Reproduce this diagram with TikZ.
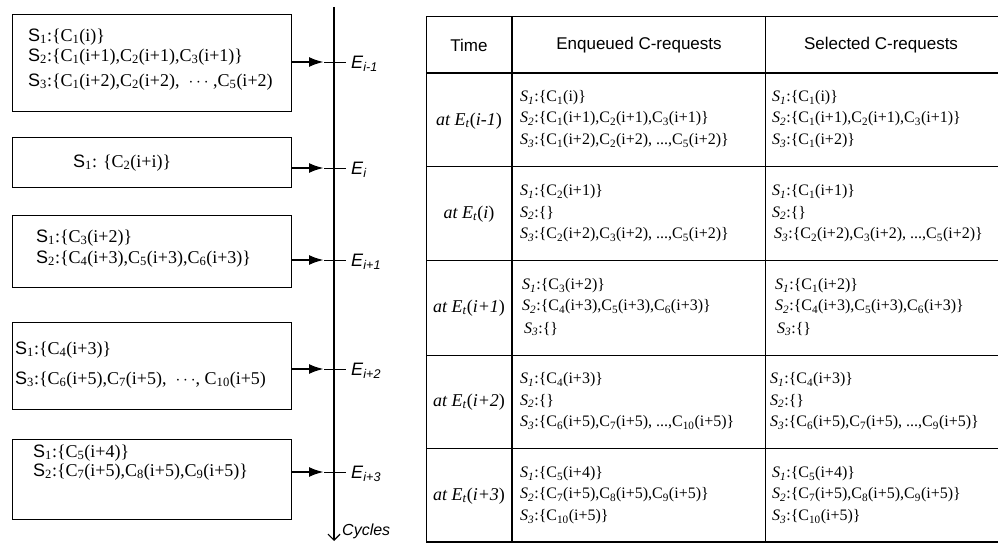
\documentclass[tikz,border=0pt]{standalone}
\usepackage{fontspec}
\setmainfont{Liberation Serif}
\setsansfont{Liberation Sans}
\usetikzlibrary{arrows.meta}
\newcommand\Cc[2]{C\textsubscript{#1}(#2)}
\newcommand\Sl[1]{{\sffamily S}\textsubscript{#1}}
\newcommand\St[1]{\textit{S}\textsubscript{\textit{#1}}}
\newcommand\Ee[1]{\textit{E}\textsubscript{\textit{#1}}}
\newcommand\Et[1]{\textit{at E}\textsubscript{\textit{t}}(\textit{#1})}
\begin{document}
\begin{tikzpicture}[x=1pt,y=-1pt,
  sbox/.style={draw,line width=1pt,minimum width=279pt,inner sep=0pt},
  ltxt/.style={anchor=west,inner sep=0pt,font=\fontsize{18}{20}\selectfont},
  elab/.style={anchor=west,inner sep=0pt,font=\fontsize{18}{20}\selectfont\sffamily},
  arr/.style={line width=2.4pt,-{Latex[length=15pt,width=10pt]}},
  tick/.style={line width=0.8pt},
  tline/.style={line width=1pt},
  ttxt/.style={anchor=west,inner sep=0pt,font=\fontsize{16}{18}\selectfont},
  htxt/.style={inner sep=0pt,font=\fontsize{17}{19}\selectfont\sffamily},
  ctxt/.style={inner sep=0pt,font=\fontsize{18}{20}\selectfont}]
\useasboundingbox (0,0) rectangle (998,545);
% ---------- left timeline ----------
\coordinate (ax0) at (334,7);
\coordinate (ax1) at (334,541);
\draw[line width=1.2pt,-{Straight Barb[length=6pt,width=12pt]}] (ax0) -- (ax1);
\node[anchor=west,inner sep=0pt,font=\fontsize{16}{18}\selectfont\sffamily\itshape] (cyc) at (342,531) {Cycles};
% boxes
\node[sbox,minimum height=97pt] (b1) at (151.5,63.5) {};
\node[sbox,minimum height=50pt] (b2) at (151.5,163) {};
\node[sbox,minimum height=71pt] (b3) at (151.5,251.5) {};
\node[sbox,minimum height=87pt] (b4) at (151.5,365.5) {};
\node[sbox,minimum height=80pt] (b5) at (151.5,479) {};
% box texts
\node[ltxt] (l11) at (28,37) {\Sl{1}:\{\Cc{1}{i}\}};
\node[ltxt] (l12) at (28,57) {\Sl{2}:\{\Cc{1}{i+1},\Cc{2}{i+1},\Cc{3}{i+1}\}};
\node[ltxt] (l13) at (28,82) {\Sl{3}:\{\Cc{1}{i+2},\Cc{2}{i+2}, \ \textbf{$\cdots$} ,\Cc{5}{i+2}};
\node[ltxt] (l21) at (73,163) {\Sl{1}: \{\Cc{2}{i+i}\}};
\node[ltxt] (l31) at (36,238) {\Sl{1}:\{\Cc{3}{i+2}\}};
\node[ltxt] (l32) at (36,259) {\Sl{2}:\{\Cc{4}{i+3},\Cc{5}{i+3},\Cc{6}{i+3}\}};
\node[ltxt] (l41) at (15,350) {\Sl{1}:\{\Cc{4}{i+3}\}};
\node[ltxt] (l42) at (15,380) {\Sl{3}:\{\Cc{6}{i+5},\Cc{7}{i+5}, \ \textbf{$\cdots$}, \Cc{10}{i+5}};
\node[ltxt] (l51) at (33,453) {\Sl{1}:\{\Cc{5}{i+4}\}};
\node[ltxt] (l52) at (33,472) {\Sl{2}:\{\Cc{7}{i+5},\Cc{8}{i+5},\Cc{9}{i+5}\}};
% arrows, ticks and labels
\foreach \i/\y/\lab in {1/62/{i-1},2/168/{i},3/260/{i+1},4/369/{i+2},5/472/{i+3}}{
  \coordinate (tip\i) at (324,\y);
  \coordinate (te\i) at (346,\y);
  \node[elab] (E\i) at (351,\y+2) {\Ee{\lab}};
  \draw[arr] (b\i.east |- tip\i) -- (tip\i);
  \draw[tick] (tip\i) -- (te\i);
}
% ---------- table ----------
\draw[tline] (426,17) -- (998,17);
\draw[line width=2.4pt] (426,73) -- (998,73);
\foreach \y in {167,261,355,448}{\draw[tline] (426,\y) -- (998,\y);}
\draw[line width=1.6pt] (426,542) -- (998,542);
\draw[tline] (426,17) -- (426,542);
\draw[line width=1.2pt] (512,17) -- (512,542);
\draw[tline] (765,17) -- (765,542);
% header
\node[htxt] (h1) at (469,45) {Time};
\node[htxt] (h2) at (639,45) {Enqueued C-requests};
\node[htxt] (h3) at (881,45) {Selected C-requests};
% time column
\node[ctxt] (r1) at (469,121) {\Et{i-1}};
\node[ctxt] (r2) at (469,214) {\Et{i}};
\node[ctxt] (r3) at (469,308) {\Et{i+1}};
\node[ctxt] (r4) at (469,402) {\Et{i+2}};
\node[ctxt] (r5) at (469,496) {\Et{i+3}};
% row 1
\node[ttxt] (a11) at (520,98) {\St{1}:\{\Cc{1}{i}\}};
\node[ttxt] (a12) at (520,119) {\St{2}:\{\Cc{1}{i+1},\Cc{2}{i+1},\Cc{3}{i+1}\}};
\node[ttxt] (a13) at (520,141) {\St{3}:\{\Cc{1}{i+2},\Cc{2}{i+2}, ...,\Cc{5}{i+2}\}};
\node[ttxt] (s11) at (772,98) {\St{1}:\{\Cc{1}{i}\}};
\node[ttxt] (s12) at (772,119) {\St{2}:\{\Cc{1}{i+1},\Cc{2}{i+1},\Cc{3}{i+1}\}};
\node[ttxt] (s13) at (772,141) {\St{3}:\{\Cc{1}{i+2}\}};
% row 2
\node[ttxt] (a21) at (520,192) {\St{1}:\{\Cc{2}{i+1}\}};
\node[ttxt] (a22) at (520,213) {\St{2}:\{\}};
\node[ttxt] (a23) at (520,235) {\St{3}:\{\Cc{2}{i+2},\Cc{3}{i+2}, ...,\Cc{5}{i+2}\}};
\node[ttxt] (s21) at (772,192) {\St{1}:\{\Cc{1}{i+1}\}};
\node[ttxt] (s22) at (772,213) {\St{2}:\{\}};
\node[ttxt] (s23) at (774,235) {\St{3}:\{\Cc{2}{i+2},\Cc{3}{i+2}, ...,\Cc{5}{i+2}\}};
% row 3
\node[ttxt] (a31) at (522,286) {\St{1}:\{\Cc{3}{i+2}\}};
\node[ttxt] (a32) at (522,307) {\St{2}:\{\Cc{4}{i+3},\Cc{5}{i+3},\Cc{6}{i+3}\}};
\node[ttxt] (a33) at (524,329) {\St{3}:\{\}};
\node[ttxt] (s31) at (775,286) {\St{1}:\{\Cc{1}{i+2}\}};
\node[ttxt] (s32) at (775,307) {\St{2}:\{\Cc{4}{i+3},\Cc{5}{i+3},\Cc{6}{i+3}\}};
\node[ttxt] (s33) at (777,329) {\St{3}:\{\}};
% row 4
\node[ttxt] (a41) at (520,380) {\St{1}:\{\Cc{4}{i+3}\}};
\node[ttxt] (a42) at (520,401) {\St{2}:\{\}};
\node[ttxt] (a43) at (520,423) {\St{3}:\{\Cc{6}{i+5},\Cc{7}{i+5}, ...,\Cc{10}{i+5}\}};
\node[ttxt] (s41) at (770,380) {\St{1}:\{\Cc{4}{i+3}\}};
\node[ttxt] (s42) at (770,401) {\St{2}:\{\}};
\node[ttxt] (s43) at (770,423) {\St{3}:\{\Cc{6}{i+5},\Cc{7}{i+5}, ...,\Cc{9}{i+5}\}};
% row 5
\node[ttxt] (a51) at (520,474) {\St{1}:\{\Cc{5}{i+4}\}};
\node[ttxt] (a52) at (520,495) {\St{2}:\{\Cc{7}{i+5},\Cc{8}{i+5},\Cc{9}{i+5}\}};
\node[ttxt] (a53) at (520,517) {\St{3}:\{\Cc{10}{i+5}\}};
\node[ttxt] (s51) at (772,474) {\St{1}:\{\Cc{5}{i+4}\}};
\node[ttxt] (s52) at (772,495) {\St{2}:\{\Cc{7}{i+5},\Cc{8}{i+5},\Cc{9}{i+5}\}};
\node[ttxt] (s53) at (772,517) {\St{3}:\{\Cc{10}{i+5}\}};
\end{tikzpicture}
\end{document}
